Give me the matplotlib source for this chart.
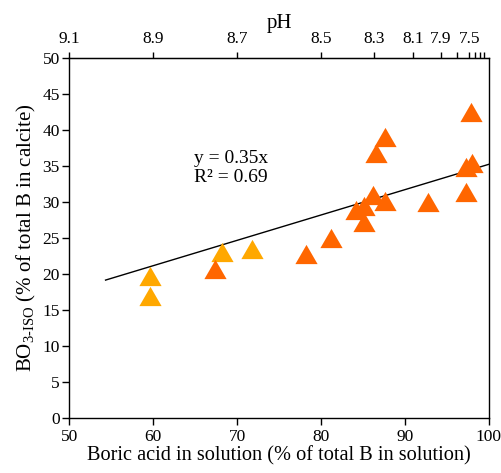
import numpy as np
import matplotlib.pyplot as plt

plt.rcParams['font.family'] = 'Liberation Serif'
plt.rcParams['mathtext.fontset'] = 'custom'
plt.rcParams['mathtext.rm'] = 'Liberation Serif'

# boric acid (%) vs BO3-ISO (%), two groups
x_amber = [59.6, 59.6, 68.2, 71.8]
y_amber = [19.7, 16.9, 23.0, 23.5]

x_orange = [67.4, 78.2, 81.2, 84.1, 85.1, 85.1, 86.2, 87.6, 86.5, 87.6,
            92.7, 97.3, 97.3, 98.0, 97.9]
y_orange = [20.6, 22.7, 24.9, 28.9, 29.4, 27.2, 30.9, 30.1, 36.8, 39.0,
            30.0, 31.3, 34.8, 35.4, 42.5]

# fit y = 0.35x
slope = 0.352
fit_x = np.array([54.3, 100])

# top pH axis
ph_pos = [50, 60, 70, 80, 86.35, 91.0, 94.26, 96.17, 97.64, 98.36, 98.96, 99.4]
ph_labels = ['9.1', '8.9', '8.7', '8.5', '8.3', '8.1', '7.9', '', '7.5', '', '', '']

tri = [(-1, -0.866), (1, -0.866), (0, 0.866)]

fig = plt.figure(figsize=(5.02, 4.73), dpi=100)
ax = fig.add_axes([0.1384, 0.1169, 0.974 - 0.1384, 0.878 - 0.1169])

ax.plot(fit_x, slope * fit_x, color='black', lw=1, zorder=2)
ax.plot(x_amber, y_amber, ls='none', marker=tri, ms=16, mew=0,
        color='#FFA800', zorder=3)
ax.plot(x_orange, y_orange, ls='none', marker=tri, ms=16, mew=0,
        color='#FF6600', zorder=3)

ax.text(64.9, 34.7, 'y = 0.35x\nR² = 0.69', fontsize=14, ha='left',
        va='center', linespacing=1.2)

ax.set_xlim(50, 100)
ax.set_ylim(0, 50)
ax.set_xticks(np.arange(50, 101, 10))
ax.set_yticks(np.arange(0, 51, 5))
ax.tick_params(direction='out', length=5, width=1, labelsize=12.5, pad=2)
ax.tick_params(axis='x', pad=3)
ax.set_xlabel('Boric acid in solution (% of total B in solution)', fontsize=14.6,
              labelpad=1)
ax.set_ylabel(r'BO$_{\mathregular{3\text{-}ISO}}$ (% of total B in calcite)',
              fontsize=15, labelpad=3)

top = ax.secondary_xaxis('top')
top.set_xticks(ph_pos)
top.set_xticklabels(ph_labels)
top.tick_params(direction='out', length=4, width=1, labelsize=12.5, pad=4)
top.set_xlabel('pH', fontsize=15, labelpad=2)

for s in ax.spines.values():
    s.set_linewidth(1)

fig.savefig('out.png', dpi=100)
